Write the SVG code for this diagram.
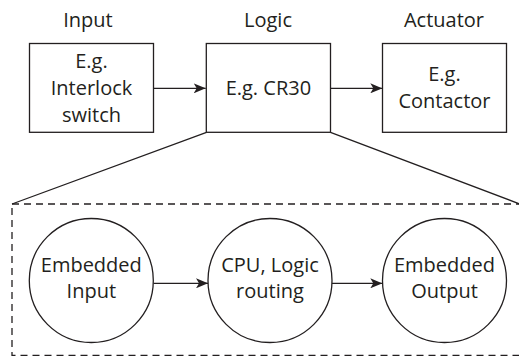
<svg xmlns="http://www.w3.org/2000/svg" width="519" height="356" viewBox="0 0 519 356">
<style>
text{font-family:"Open Sans","Noto Sans",sans-serif;font-size:20px;fill:#231f20;text-anchor:middle}
.box{fill:#fff;stroke:#231f20;stroke-width:1.3}
.ln{fill:none;stroke:#231f20;stroke-width:1.3}
.dash{fill:none;stroke:#231f20;stroke-width:1.3;stroke-dasharray:7 5}
</style>
<defs>
<marker id="ah" markerWidth="12" markerHeight="10" refX="12" refY="5" orient="auto" markerUnits="userSpaceOnUse">
<path d="M0,0 L12,5 L0,10 L3,5 Z" fill="#231f20"/>
</marker>
</defs>
<g id="labels">
<text x="88" y="27">Input</text>
<text x="268" y="27">Logic</text>
<text x="444" y="27">Actuator</text>
</g>
<g id="expansion">
<rect class="dash" x="12" y="204" width="520" height="151.5"/>
<path class="ln" d="M206.5,132.3 L12,204 M330.5,132.3 L525,206"/>
</g>
<g id="input">
<rect class="box" x="29.5" y="43.5" width="124" height="88.8"/>
<text x="91.5" y="68">E.g.</text>
<text x="91.5" y="95">Interlock</text>
<text x="91.5" y="122">switch</text>
</g>
<g id="logic">
<rect class="box" x="206.3" y="43.5" width="124.2" height="88.8"/>
<text x="268.4" y="95">E.g. CR30</text>
</g>
<g id="actuator">
<rect class="box" x="382.5" y="43.5" width="124" height="88.8"/>
<text x="444.5" y="81">E.g.</text>
<text x="444.5" y="108">Contactor</text>
</g>
<g id="embedded-input">
<circle class="box" cx="91.3" cy="280.5" r="62"/>
<text x="91.3" y="272">Embedded</text>
<text x="91.3" y="298">Input</text>
</g>
<g id="cpu">
<circle class="box" cx="270" cy="280.5" r="62"/>
<text x="270" y="272">CPU, Logic</text>
<text x="270" y="298">routing</text>
</g>
<g id="embedded-output">
<circle class="box" cx="444.5" cy="280.5" r="62"/>
<text x="444.5" y="272">Embedded</text>
<text x="444.5" y="298">Output</text>
</g>
<g id="connectors">
<line class="ln" x1="154" y1="88.3" x2="205.7" y2="88.3" marker-end="url(#ah)"/>
<line class="ln" x1="330.5" y1="88.3" x2="382.3" y2="88.3" marker-end="url(#ah)"/>
<line class="ln" x1="153.5" y1="283.3" x2="208" y2="283.3" marker-end="url(#ah)"/>
<line class="ln" x1="332" y1="283.3" x2="382.3" y2="283.3" marker-end="url(#ah)"/>
</g>
</svg>
